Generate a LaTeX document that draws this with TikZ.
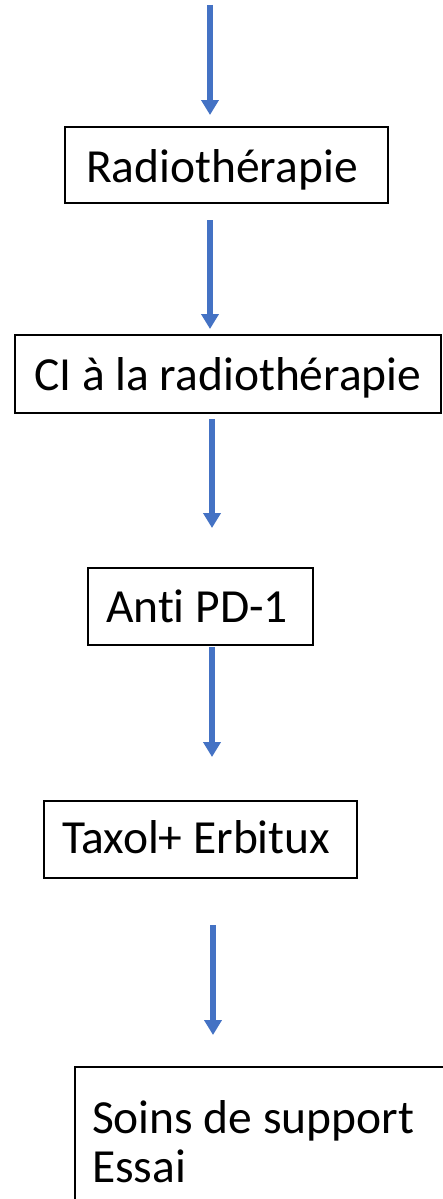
\documentclass[tikz,border=0pt]{standalone}
\usepackage{fontspec}
\setmainfont{Carlito}[Ligatures=NoCommon]
\usetikzlibrary{arrows.meta}
\definecolor{arrowblue}{HTML}{4472C4}
\tikzset{
  boxframe/.style={draw=black,line width=1.6pt,fill=none},
  lbl/.style={anchor=base west,inner sep=0pt,outer sep=0pt,font=\fontsize{47.5}{49}\selectfont},
  flow/.style={draw=arrowblue,line width=5.5pt,-{Triangle[length=15pt,width=17pt]}}
}
\begin{document}
\begin{tikzpicture}[x=1pt,y=-1pt]
\useasboundingbox (0,0) rectangle (443,1199);
\fill[white] (0,0) rectangle (443,1199);
% boxes
\draw[boxframe] (65,127) rectangle (388,203);
\draw[boxframe] (15,335) rectangle (441,413);
\draw[boxframe] (88,568) rectangle (313,645);
\draw[boxframe] (44,801) rectangle (357,878);
\begin{scope}
\clip (0,0) rectangle (443,1199);
\draw[boxframe] (75,1067) rectangle (470,1230);
\end{scope}
% texts
\node[lbl] (t1) at (86,182) {Radiothérapie};
\node[lbl] (t2) at (34,390) {CI à la radiothérapie};
\node[lbl] (t3) at (106,622) {Anti PD-1};
\node[lbl] (t4) at (62,853) {Taxol+ Erbitux};
\node[lbl] (t5a) at (92,1133) {Soins de support};
\node[lbl] (t5b) at (92,1182) {Essai};
% arrow ends
\coordinate (a1s) at (210,5);   \coordinate (a1e) at (210,115);
\coordinate (a2s) at (210,220); \coordinate (a2e) at (210,329);
\coordinate (a3s) at (212,419); \coordinate (a3e) at (212,528);
\coordinate (a4s) at (212,647); \coordinate (a4e) at (212,757);
\coordinate (a5s) at (213,925); \coordinate (a5e) at (213,1035);
\draw[flow] (a1s) -- (a1e);
\draw[flow] (a2s) -- (a2e);
\draw[flow] (a3s) -- (a3e);
\draw[flow] (a4s) -- (a4e);
\draw[flow] (a5s) -- (a5e);
\end{tikzpicture}
\end{document}
